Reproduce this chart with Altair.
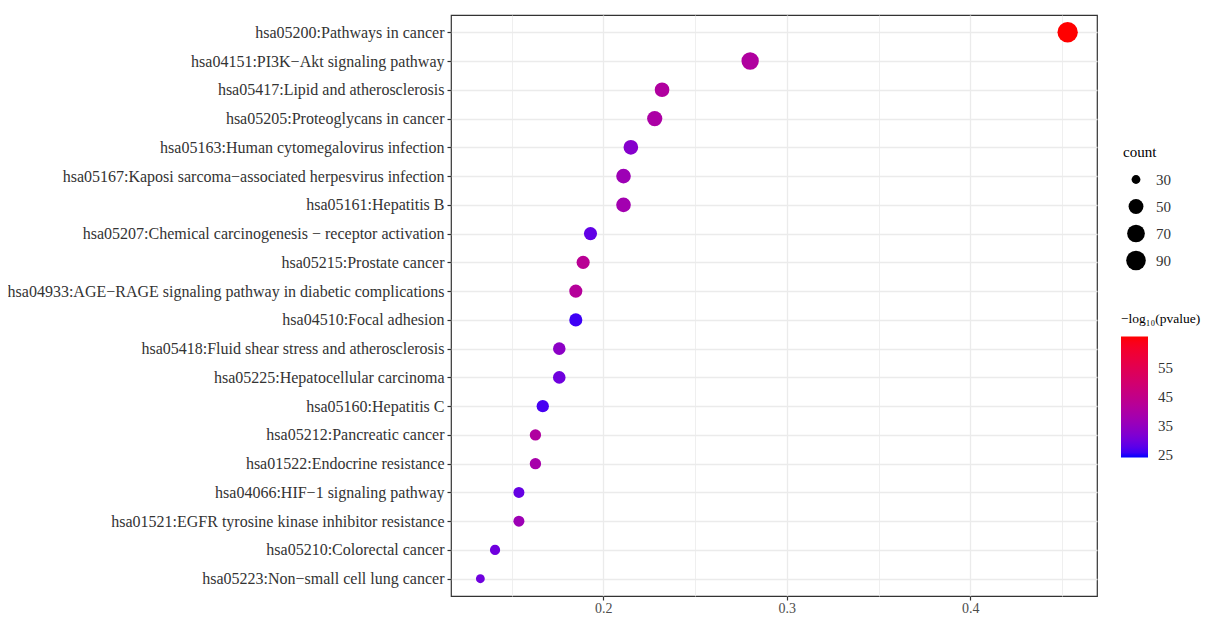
import altair as alt
import pandas as pd

terms = [
    "hsa05200:Pathways in cancer",
    "hsa04151:PI3K\u2212Akt signaling pathway",
    "hsa05417:Lipid and atherosclerosis",
    "hsa05205:Proteoglycans in cancer",
    "hsa05163:Human cytomegalovirus infection",
    "hsa05167:Kaposi sarcoma\u2212associated herpesvirus infection",
    "hsa05161:Hepatitis B",
    "hsa05207:Chemical carcinogenesis \u2212 receptor activation",
    "hsa05215:Prostate cancer",
    "hsa04933:AGE\u2212RAGE signaling pathway in diabetic complications",
    "hsa04510:Focal adhesion",
    "hsa05418:Fluid shear stress and atherosclerosis",
    "hsa05225:Hepatocellular carcinoma",
    "hsa05160:Hepatitis C",
    "hsa05212:Pancreatic cancer",
    "hsa01522:Endocrine resistance",
    "hsa04066:HIF\u22121 signaling pathway",
    "hsa01521:EGFR tyrosine kinase inhibitor resistance",
    "hsa05210:Colorectal cancer",
    "hsa05223:Non\u2212small cell lung cancer",
]
gene_ratio = [0.453, 0.280, 0.232, 0.228, 0.215, 0.211, 0.211, 0.193, 0.189, 0.185,
              0.185, 0.176, 0.176, 0.167, 0.163, 0.163, 0.154, 0.154, 0.141, 0.133]
counts = [100, 67, 49, 52, 49, 49, 49, 42, 42, 42, 42, 40, 40, 39, 36, 36, 35, 35, 33, 30]
neglog10p = [66, 41, 41, 40, 33, 37, 38, 28.5, 43, 42, 26, 34, 30, 26.5, 41, 39, 29, 37, 30, 30]

df = pd.DataFrame({"term": terms, "ratio": gene_ratio, "count": counts, "nlp": neglog10p})

FONT = "Liberation Serif"
major_test = "round(datum.value*100) % 10 == 0"

chart = alt.Chart(df).mark_circle(opacity=1).encode(
    x=alt.X("ratio:Q",
            scale=alt.Scale(domain=[0.117, 0.469], nice=False, zero=False),
            axis=alt.Axis(title=None,
                          values=[0.15, 0.2, 0.25, 0.3, 0.35, 0.4, 0.45],
                          labelExpr="round(datum.value*100) % 10 == 0 ? format(datum.value, '.1f') : ''",
                          grid=True, gridColor="#EBEBEB",
                          gridWidth={"condition": {"test": major_test, "value": 1.3}, "value": 0.8},
                          tickOpacity={"condition": {"test": major_test, "value": 1}, "value": 0},
                          tickColor="#333333", tickSize=4, tickWidth=1.2,
                          labelColor="#4D4D4D", labelFontSize=14, labelFont=FONT,
                          labelPadding=1, domain=False)),
    y=alt.Y("term:N", sort=terms,
            scale=alt.Scale(type="point", padding=0.6),
            axis=alt.Axis(title=None, grid=True, gridColor="#EBEBEB", gridWidth=1.3,
                          tickColor="#333333", tickSize=4, tickWidth=1.2,
                          labelColor="#333333", labelFontSize=16, labelFont=FONT,
                          labelLimit=0, labelPadding=3, domain=False)),
    size=alt.Size("count:Q",
                  scale=alt.Scale(type="log", domain=[30, 100], range=[78, 414]),
                  legend=alt.Legend(title="count", values=[30, 50, 70, 90], orient="none",
                                    legendX=672, legendY=130, symbolFillColor="black",
                                    symbolStrokeWidth=0, symbolOpacity=1,
                                    clipHeight=27, rowPadding=0, symbolOffset=3,
                                    labelOffset=10, titlePadding=6)),
    color=alt.Color("nlp:Q",
                    scale=alt.Scale(domain=[24.3, 66], range=["#0000FF", "#FF0000"], interpolate="lab"),
                    legend=alt.Legend(title="\u2212log\u2081\u2080(pvalue)", values=[25, 35, 45, 55],
                                      orient="none", legendX=670, legendY=297,
                                      titleFontSize=13.5,
                                      gradientLength=121, gradientThickness=27,
                                      gradientStrokeWidth=0, labelOffset=10, titlePadding=11)),
).properties(
    width=646, height=581,
    autosize=alt.AutoSizeParams(type="none"),
    padding={"left": 443, "top": 7, "right": 111, "bottom": 20},
).configure_view(
    stroke="#333333", strokeWidth=1.2
).configure_legend(
    titleFont=FONT, titleFontSize=15, titleFontWeight="normal", titleColor="#000000",
    labelFont=FONT, labelFontSize=15, labelColor="#333333"
)

chart.save("out.html", embed_options={"renderer": "svg", "actions": False})
